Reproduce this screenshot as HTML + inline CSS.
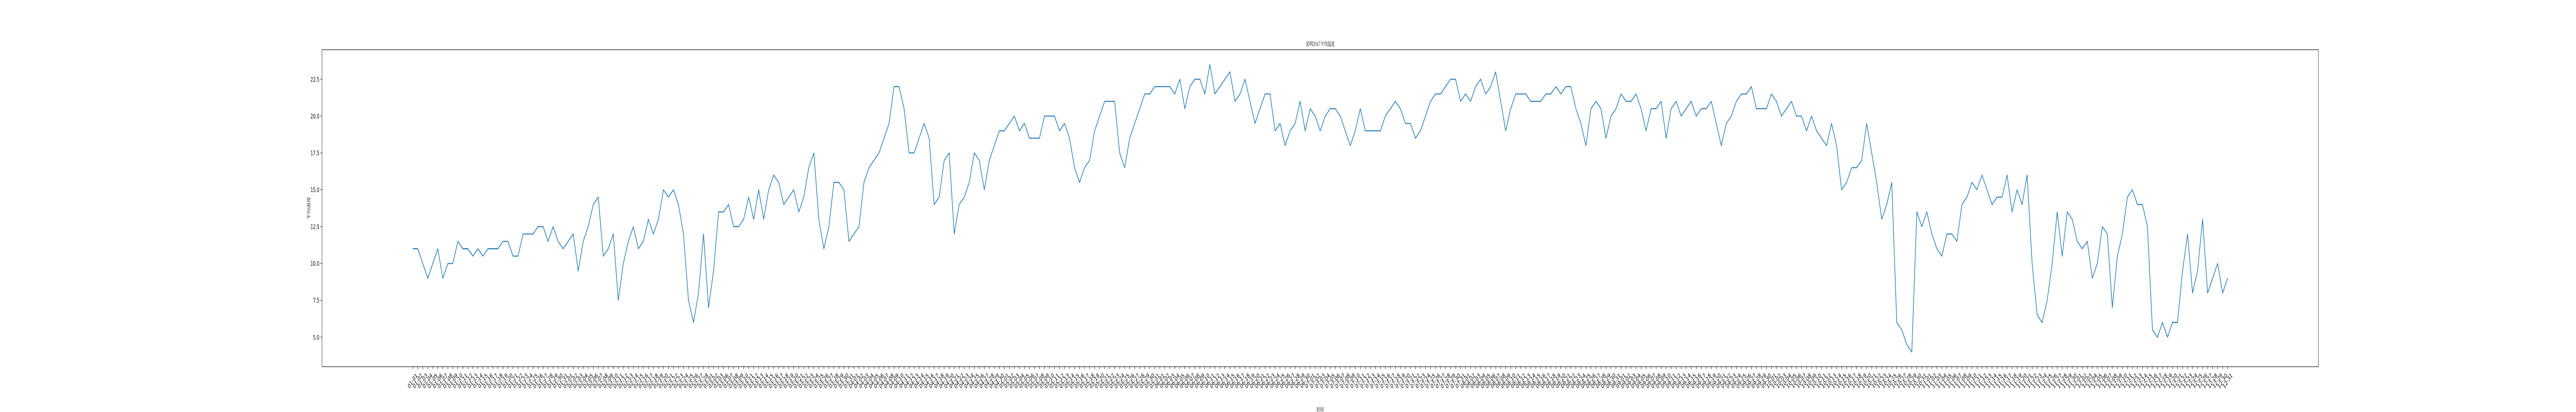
<!DOCTYPE html>
<html><head><meta charset="utf-8"><title>昆明2017平均温度</title>
<style>
html,body{margin:0;padding:0;background:#fff;width:100%;height:100%;overflow:hidden;}
svg{display:block;position:absolute;left:0;top:0;width:100vw;height:100vh;}
text{font-family:"DejaVu Sans","Liberation Sans","Noto Sans CJK SC",sans-serif;fill:#000;}
.cjk{font-family:"Noto Serif CJK SC","Noto Sans CJK SC","WenQuanYi Zen Hei",serif;}
</style></head>
<body>
<svg id="chart" viewBox="0 0 8000 800" preserveAspectRatio="none" xmlns="http://www.w3.org/2000/svg">
<rect x="0" y="0" width="8000" height="800" fill="#fff"/>
<text class="cjk" x="4100" y="89" font-size="11" text-anchor="middle">昆明2017平均温度</text>
<text class="cjk" x="0" y="0" font-size="11" text-anchor="middle" transform="translate(962,404) rotate(-90)">平均温度</text>
<text class="cjk" x="4100" y="799" font-size="11" text-anchor="middle">时间</text>
<g id="yticks"></g>
<g id="xticks"></g>
<g id="series"></g>
<rect x="1000" y="96.6" width="6200" height="615.4" fill="none" stroke="#000" stroke-width="1"/>
</svg>
<script>
const missingDates = ['03-04','03-05'];
const monthLengths = [31,28,31,30,31,30,31,31,30,31,30,31];
const categories = [];
for (let m = 0; m < 12; m++) {
  for (let d = 1; d <= monthLengths[m]; d++) {
    const s = String(m + 1).padStart(2, '0') + '-' + String(d).padStart(2, '0');
    if (missingDates.indexOf(s) < 0) categories.push(s);
  }
}
const tempValues = [
11,11,10,9,10,11,9,10,10,11.5,11,11,10.5,11,10.5,11,11,11,11.5,11.5,10.5,10.5,12,12,12,
12.5,12.5,11.5,12.5,11.5,11,11.5,12,9.5,11.5,12.5,14,14.5,10.5,11,12,7.5,10,11.5,12.5,11,11.5,13,12,13,15,14.5,15,14,12,7.5,6,8,12,7,9.5,13.5,13.5,14,12.5,12.5,
13,14.5,13,15,13,15,16,15.5,14,14.5,15,13.5,14.5,16.5,17.5,13,11,12.5,15.5,15.5,15,11.5,12,12.5,15.5,16.5,17,17.5,18.5,19.5,22,22,20.5,17.5,17.5,18.5,19.5,18.5,14,14.5,17,17.5,12,14,14.5,15.5,
17.5,17,15,17,18,19,19,19.5,20,19,19.5,18.5,18.5,18.5,20,20,20,19,19.5,18.5,16.5,15.5,16.5,17,19,20,21,21,21,17.5,16.5,18.5,19.5,20.5,21.5,21.5,22,22,22,22,21.5,22.5,20.5,22,22.5,22.5,
21.5,23.5,21.5,22,22.5,23,21,21.5,22.5,21,19.5,20.5,21.5,21.5,19,19.5,18,19,19.5,21,19,20.5,20,19,20,20.5,20.5,20,19,18,19,20.5,19,19,19,19,20,20.5,21,20.5,19.5,19.5,18.5,19,20,21,
21.5,21.5,22,22.5,22.5,21,21.5,21,22,22.5,21.5,22,23,21,19,20.5,21.5,21.5,21.5,21,21,21,21.5,21.5,22,21.5,22,22,20.5,19.5,18,20.5,21,20.5,18.5,20,20.5,21.5,21,21,21.5,20.5,19,20.5,20.5,21,
18.5,20.5,21,20,20.5,21,20,20.5,20.5,21,19.5,18,19.5,20,21,21.5,21.5,22,20.5,20.5,20.5,21.5,21,20,20.5,21,20,20,19,20,19,18.5,18,19.5,18,15,15.5,16.5,16.5,17,19.5,17.5,15.5,13,14,15.5,6,
5.5,4.5,4,13.5,12.5,13.5,12,11,10.5,12,12,11.5,14,14.5,15.5,15,16,15,14,14.5,14.5,16,13.5,15,14,16,10,6.5,6,7.5,10,13.5,10.5,13.5,13,11.5,11,11.5,9,10,12.5,12,7,10.5,12,14.5,
15,14,14,12.5,5.5,5,6,5,6,6,9.5,12,8,9.5,13,8,9,10,8,9
];
const yTickValues = [5.0,7.5,10.0,12.5,15.0,17.5,20.0,22.5];

const plotLeft = 1000, plotRight = 7200, plotTop = 96.6, plotBottom = 712;
const yMin = 3.0, yMax = 24.5;
function xScale(i) {
  const n = categories.length - 1;
  const pad = n * 0.05;
  return plotLeft + (i + pad) / (n + 2 * pad) * (plotRight - plotLeft);
}
function yScale(v) {
  return plotBottom - (v - yMin) / (yMax - yMin) * (plotBottom - plotTop);
}
const NS = 'http://www.w3.org/2000/svg';
const yG = document.getElementById('yticks');
yTickValues.forEach(function (v) {
  const y = yScale(v);
  const t = document.createElementNS(NS, 'line');
  t.setAttribute('x1', plotLeft - 5); t.setAttribute('x2', plotLeft);
  t.setAttribute('y1', y); t.setAttribute('y2', y);
  t.setAttribute('stroke', '#000'); t.setAttribute('stroke-width', '1');
  
  
  yG.appendChild(t);
  const l = document.createElementNS(NS, 'text');
  l.setAttribute('x', plotLeft - 8); l.setAttribute('y', y + 4.5);
  l.setAttribute('font-size', '12.5'); l.setAttribute('text-anchor', 'end');
  l.textContent = v.toFixed(1);
  
  
  yG.appendChild(l);
});
const xG = document.getElementById('xticks');
categories.forEach(function (c, i) {
  const x = xScale(i);
  const t = document.createElementNS(NS, 'line');
  t.setAttribute('x1', x); t.setAttribute('x2', x);
  t.setAttribute('y1', plotBottom); t.setAttribute('y2', plotBottom + 5);
  t.setAttribute('stroke', '#000'); t.setAttribute('stroke-width', '1');
  
  
  xG.appendChild(t);
  const l = document.createElementNS(NS, 'text');
  l.setAttribute('font-size', '12.5'); l.setAttribute('text-anchor', 'middle');
  l.setAttribute('dominant-baseline', 'central');
  l.setAttribute('transform', 'translate(' + x + ',' + (plotBottom + 28) + ') rotate(-45)');
  l.textContent = c;
  
  
  xG.appendChild(l);
});
const pts = tempValues.map(function (v, i) { return xScale(i).toFixed(2) + ',' + yScale(v).toFixed(2); }).join(' ');
const line = document.createElementNS(NS, 'polyline');
line.setAttribute('points', pts);
line.setAttribute('fill', 'none');
line.setAttribute('stroke', '#1f77b4');
line.setAttribute('stroke-width', '1.9');
line.setAttribute('stroke-linejoin', 'round');


document.getElementById('series').appendChild(line);
</script>
</body></html>
